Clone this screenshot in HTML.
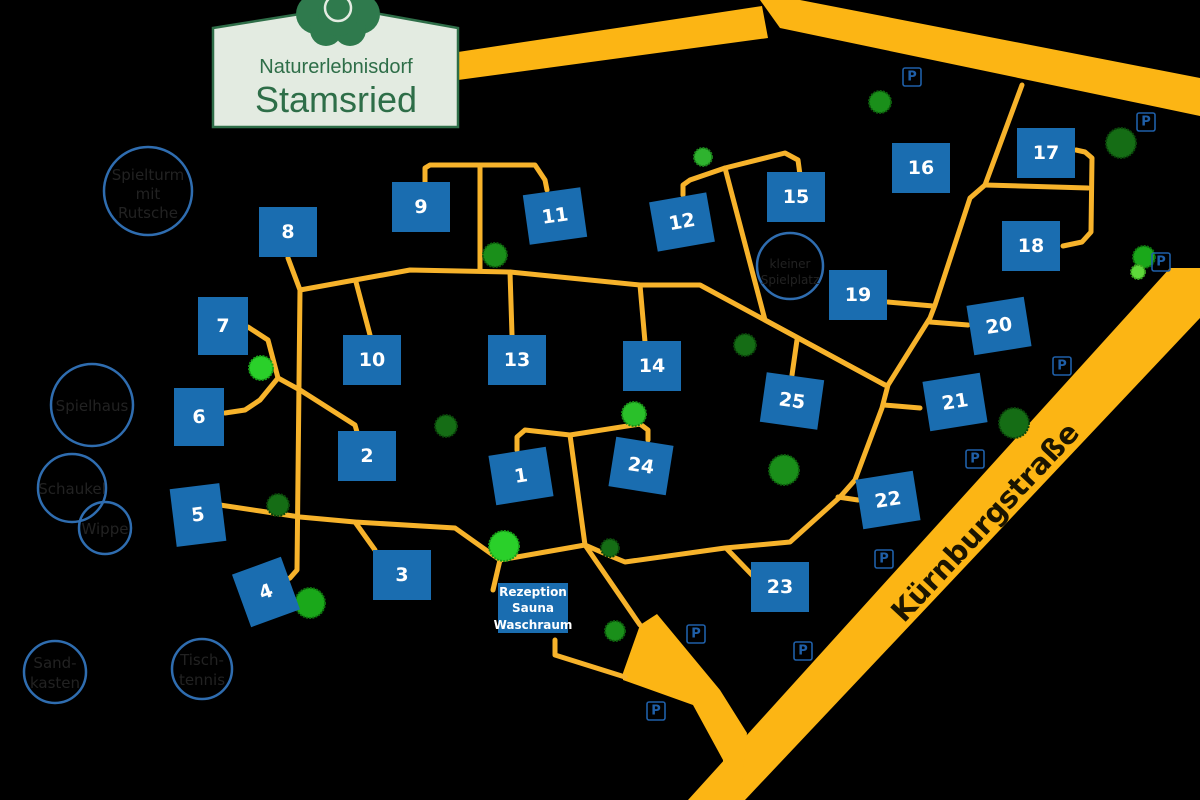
<!DOCTYPE html>
<html><head><meta charset="utf-8"><style>
html,body{margin:0;padding:0;background:#000;}
svg{display:block}
.p{fill:none;stroke:#f7b32b;stroke-width:5;stroke-linejoin:round;stroke-linecap:round}
.b rect{fill:#1a6db0}
.b text{fill:#fff;font:bold 19px "DejaVu Sans",sans-serif;text-anchor:middle;dominant-baseline:central}
.c circle{fill:none;stroke:#2f6db0;stroke-width:2.5}
.c text{fill:#222;font:15px "DejaVu Sans",sans-serif;text-anchor:middle}
.pk rect{fill:none;stroke:#1f5fa8;stroke-width:1.6}
.pk text{fill:#1f5fa8;font:bold 13px "DejaVu Sans",sans-serif;text-anchor:middle;dominant-baseline:central}
</style></head><body>
<svg width="1200" height="800" viewBox="0 0 1200 800" xmlns="http://www.w3.org/2000/svg">
<rect width="1200" height="800" fill="#000"/>
<g fill="#fcb514">
<polygon points="458,52 762,6 768,38 458,80"/>
<polygon points="760,0 800,0 1200,78 1200,116 780,28"/>
<polygon points="1170,268 1200,268 1200,318 745,800 688,800"/>
<polygon points="623,673 640,625 657,614 720,690 747,733 740,800 723,800 723,760 693,705 623,680"/>
</g>
<g class="p">
<polyline points="300,290 410,270 510,272 640,285 700,285 885,385"/>
<polyline points="288,258 300,290 297,570 290,578 280,582"/>
<polyline points="425,182 425,168 430,165 535,165 545,180 547,190"/>
<polyline points="480,165 480,270"/>
<polyline points="356,282 370,335"/>
<polyline points="510,272 512,335"/>
<polyline points="640,285 645,342"/>
<polyline points="683,195 683,185 690,180 725,168 785,153 798,160 800,175"/>
<polyline points="725,168 765,320 885,385"/>
<polyline points="797,340 792,375"/>
<polyline points="1022,85 985,185 970,198 935,305 930,318 888,385 882,408 855,480 840,497 790,542 725,548 625,562 608,555 585,545 500,560 455,528 355,522 300,517 220,505"/>
<polyline points="985,185 1088,188"/>
<polyline points="1076,150 1085,152 1092,158 1091,232 1082,242 1063,246"/>
<polyline points="888,302 933,306"/>
<polyline points="930,322 968,325"/>
<polyline points="884,405 920,408"/>
<polyline points="838,497 858,500"/>
<polyline points="726,548 755,578"/>
<polyline points="355,522 375,550"/>
<polyline points="500,560 493,590"/>
<polyline points="555,640 555,655 625,677"/>
<polyline points="585,545 570,435 525,430 517,437 517,450"/>
<polyline points="570,435 640,424 648,430 648,440"/>
<polyline points="585,545 640,625"/>
<polyline points="248,327 268,340 278,378 300,390 355,425 357,432"/>
<polyline points="278,378 260,400 245,410 225,413"/>
</g>
<g class="c">
<circle cx="148" cy="191" r="44"/><text x="148" y="180">Spielturm</text><text x="148" y="199">mit</text><text x="148" y="218">Rutsche</text>
<circle cx="92" cy="405" r="41"/><text x="92" y="411">Spielhaus</text>
<circle cx="72" cy="488" r="34"/><text x="72" y="494">Schaukel</text>
<circle cx="105" cy="528" r="26"/><text x="105" y="534">Wippe</text>
<circle cx="55" cy="672" r="31"/><text x="55" y="668">Sand-</text><text x="55" y="688">kasten</text>
<circle cx="202" cy="669" r="30"/><text x="202" y="665">Tisch-</text><text x="202" y="685">tennis</text>
<circle cx="790" cy="266" r="33"/><text x="790" y="268" style="font-size:12px">kleiner</text><text x="790" y="284" style="font-size:12px">Spielplatz</text>
</g>
<g stroke-dasharray="2 1.2" stroke-width="2">
<circle cx="880" cy="102" r="11" fill="#1a8f1a" stroke="#0d5f0d"/>
<circle cx="1121" cy="143" r="15" fill="#156d15" stroke="#0a450a"/>
<circle cx="703" cy="157" r="9" fill="#2fb32f" stroke="#1a801a"/>
<circle cx="495" cy="255" r="12" fill="#1a8f1a" stroke="#0d5f0d"/>
<circle cx="1144" cy="257" r="11" fill="#1aa81a" stroke="#0d700d"/>
<circle cx="1138" cy="272" r="7" fill="#5ed83a" stroke="#3aa020"/>
<circle cx="745" cy="345" r="11" fill="#156d15" stroke="#0a450a"/>
<circle cx="261" cy="368" r="12" fill="#2ad02a" stroke="#18a018"/>
<circle cx="446" cy="426" r="11" fill="#156d15" stroke="#0a450a"/>
<circle cx="634" cy="414" r="12" fill="#2ac02a" stroke="#189018"/>
<circle cx="784" cy="470" r="15" fill="#1a8f1a" stroke="#0d5f0d"/>
<circle cx="1014" cy="423" r="15" fill="#156d15" stroke="#0a450a"/>
<circle cx="278" cy="505" r="11" fill="#156d15" stroke="#0a450a"/>
<circle cx="504" cy="546" r="15" fill="#2ad02a" stroke="#18a018"/>
<circle cx="310" cy="603" r="15" fill="#1aa81a" stroke="#0d700d"/>
<circle cx="610" cy="548" r="9" fill="#156d15" stroke="#0a450a"/>
<circle cx="615" cy="631" r="10" fill="#1a8f1a" stroke="#0d5f0d"/>
</g>
<g class="b">
<g transform="translate(288,232)"><rect x="-29" y="-25" width="58" height="50"/><text>8</text></g>
<g transform="translate(421,207)"><rect x="-29" y="-25" width="58" height="50"/><text>9</text></g>
<g transform="translate(555,216) rotate(-8)"><rect x="-29" y="-25" width="58" height="50"/><text>11</text></g>
<g transform="translate(682,222) rotate(-10)"><rect x="-29" y="-25" width="58" height="50"/><text>12</text></g>
<g transform="translate(796,197)"><rect x="-29" y="-25" width="58" height="50"/><text>15</text></g>
<g transform="translate(921,168)"><rect x="-29" y="-25" width="58" height="50"/><text>16</text></g>
<g transform="translate(1046,153)"><rect x="-29" y="-25" width="58" height="50"/><text>17</text></g>
<g transform="translate(1031,246)"><rect x="-29" y="-25" width="58" height="50"/><text>18</text></g>
<g transform="translate(858,295)"><rect x="-29" y="-25" width="58" height="50"/><text>19</text></g>
<g transform="translate(999,326) rotate(-9)"><rect x="-29" y="-25" width="58" height="50"/><text>20</text></g>
<g transform="translate(955,402) rotate(-9)"><rect x="-29" y="-25" width="58" height="50"/><text>21</text></g>
<g transform="translate(888,500) rotate(-9)"><rect x="-29" y="-25" width="58" height="50"/><text>22</text></g>
<g transform="translate(792,401) rotate(8)"><rect x="-29" y="-25" width="58" height="50"/><text>25</text></g>
<g transform="translate(652,366)"><rect x="-29" y="-25" width="58" height="50"/><text>14</text></g>
<g transform="translate(517,360)"><rect x="-29" y="-25" width="58" height="50"/><text>13</text></g>
<g transform="translate(372,360)"><rect x="-29" y="-25" width="58" height="50"/><text>10</text></g>
<g transform="translate(223,326)"><rect x="-25" y="-29" width="50" height="58"/><text>7</text></g>
<g transform="translate(199,417)"><rect x="-25" y="-29" width="50" height="58"/><text>6</text></g>
<g transform="translate(367,456)"><rect x="-29" y="-25" width="58" height="50"/><text>2</text></g>
<g transform="translate(521,476) rotate(-9)"><rect x="-29" y="-25" width="58" height="50"/><text>1</text></g>
<g transform="translate(641,466) rotate(9)"><rect x="-29" y="-25" width="58" height="50"/><text>24</text></g>
<g transform="translate(198,515) rotate(-7)"><rect x="-25" y="-29" width="50" height="58"/><text>5</text></g>
<g transform="translate(266,592) rotate(-20)"><rect x="-26" y="-28" width="52" height="56"/><text>4</text></g>
<g transform="translate(402,575)"><rect x="-29" y="-25" width="58" height="50"/><text>3</text></g>
<g transform="translate(780,587)"><rect x="-29" y="-25" width="58" height="50"/><text>23</text></g>
<rect x="498" y="583" width="70" height="50"/>
<text x="533" y="592" style="font-size:12px">Rezeption</text>
<text x="533" y="608" style="font-size:12px">Sauna</text>
<text x="533" y="625" style="font-size:12px">Waschraum</text>
</g>
<g class="pk">
<g transform="translate(912,77)"><rect x="-9" y="-9" width="18" height="18" rx="2"/><text>P</text></g>
<g transform="translate(1146,122)"><rect x="-9" y="-9" width="18" height="18" rx="2"/><text>P</text></g>
<g transform="translate(1161,262)"><rect x="-9" y="-9" width="18" height="18" rx="2"/><text>P</text></g>
<g transform="translate(1062,366)"><rect x="-9" y="-9" width="18" height="18" rx="2"/><text>P</text></g>
<g transform="translate(975,459)"><rect x="-9" y="-9" width="18" height="18" rx="2"/><text>P</text></g>
<g transform="translate(884,559)"><rect x="-9" y="-9" width="18" height="18" rx="2"/><text>P</text></g>
<g transform="translate(696,634)"><rect x="-9" y="-9" width="18" height="18" rx="2"/><text>P</text></g>
<g transform="translate(803,651)"><rect x="-9" y="-9" width="18" height="18" rx="2"/><text>P</text></g>
<g transform="translate(656,711)"><rect x="-9" y="-9" width="18" height="18" rx="2"/><text>P</text></g>
</g>
<text transform="translate(985,522) rotate(-47)" text-anchor="middle" dominant-baseline="central" style="font:bold 29px 'DejaVu Sans',sans-serif;fill:#1a1400">Kürnburgstraße</text>
<polygon points="213,28 300,14 380,14 458,28 458,127 213,127" fill="#e3ebe1" stroke="#2e6e48" stroke-width="2.5"/>
<g fill="#2f7a4d">
<circle cx="338" cy="-4" r="20"/><circle cx="316" cy="14" r="20"/><circle cx="360" cy="14" r="20"/>
<circle cx="326" cy="30" r="16"/><circle cx="350" cy="30" r="16"/><circle cx="338" cy="16" r="20"/>
</g>
<circle cx="338" cy="8" r="13" fill="none" stroke="#e3ebe1" stroke-width="2.5"/>
<text x="336" y="73" text-anchor="middle" style="font:20px 'Liberation Sans',sans-serif;fill:#2e6e48">Naturerlebnisdorf</text>
<text x="336" y="112" text-anchor="middle" style="font:36px 'Liberation Sans',sans-serif;fill:#2e6e48">Stamsried</text>
</svg>
</body></html>
